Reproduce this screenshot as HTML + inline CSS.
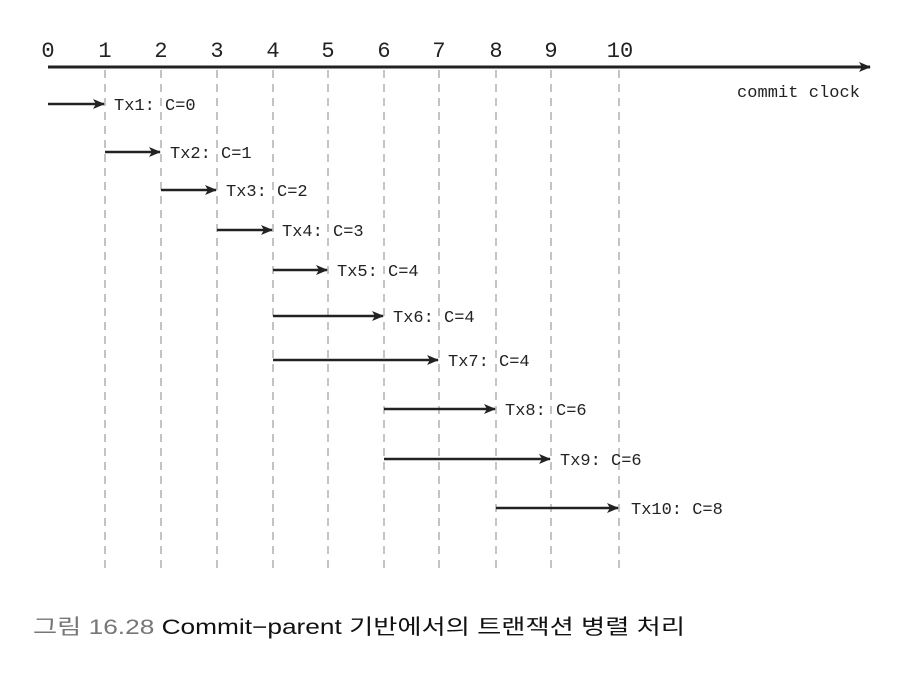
<!DOCTYPE html>
<html><head><meta charset="utf-8"><style>
html,body{margin:0;padding:0;background:#fff;}
svg{display:block;}
.m{font-family:"Liberation Mono",monospace;fill:#222;}
</style></head><body>
<svg width="906" height="684" viewBox="0 0 906 684" xmlns="http://www.w3.org/2000/svg">
<defs>
<marker id="a" markerWidth="12" markerHeight="10" refX="11" refY="5" orient="auto" markerUnits="userSpaceOnUse">
<path d="M0,0 L12,5 L0,10 L3,5 Z" fill="#222"/>
</marker>
</defs>
<g stroke="#c4c4c4" stroke-width="2" stroke-dasharray="8,6">
<line x1="105" y1="70" x2="105" y2="568"/>
<line x1="161" y1="70" x2="161" y2="568"/>
<line x1="217" y1="70" x2="217" y2="568"/>
<line x1="273" y1="70" x2="273" y2="568"/>
<line x1="328" y1="70" x2="328" y2="568"/>
<line x1="384" y1="70" x2="384" y2="568"/>
<line x1="439" y1="70" x2="439" y2="568"/>
<line x1="496" y1="70" x2="496" y2="568"/>
<line x1="551" y1="70" x2="551" y2="568"/>
<line x1="619" y1="70" x2="619" y2="568"/>
</g>
<line x1="48" y1="67" x2="870" y2="67" stroke="#222" stroke-width="3" marker-end="url(#a)"/>
<g class="m" font-size="22" text-anchor="middle">
<text x="48" y="57">0</text><text x="105" y="57">1</text><text x="161" y="57">2</text>
<text x="217" y="57">3</text><text x="273" y="57">4</text><text x="328" y="57">5</text>
<text x="384" y="57">6</text><text x="439" y="57">7</text><text x="496" y="57">8</text>
<text x="551" y="57">9</text><text x="620" y="57">10</text>
</g>
<text class="m" x="737" y="97" font-size="17" textLength="123">commit clock</text>
<g stroke="#222" stroke-width="2.5" marker-end="url(#a)">
<line x1="48" y1="104" x2="104" y2="104"/>
<line x1="105" y1="152" x2="160" y2="152"/>
<line x1="161" y1="190" x2="216" y2="190"/>
<line x1="217" y1="230" x2="272" y2="230"/>
<line x1="273" y1="270" x2="327" y2="270"/>
<line x1="273" y1="316" x2="383" y2="316"/>
<line x1="273" y1="360" x2="438" y2="360"/>
<line x1="384" y1="409" x2="495" y2="409"/>
<line x1="384" y1="459" x2="550" y2="459"/>
<line x1="496" y1="508" x2="618" y2="508"/>
</g>
<g class="m" font-size="17">
<text x="114" y="110">Tx1: C=0</text>
<text x="170" y="158">Tx2: C=1</text>
<text x="226" y="196">Tx3: C=2</text>
<text x="282" y="236">Tx4: C=3</text>
<text x="337" y="276">Tx5: C=4</text>
<text x="393" y="322">Tx6: C=4</text>
<text x="448" y="366">Tx7: C=4</text>
<text x="505" y="415">Tx8: C=6</text>
<text x="560" y="465">Tx9: C=6</text>
<text x="631" y="514">Tx10: C=8</text>
</g>
<text x="33" y="634" font-size="21" font-family="'Liberation Sans','Noto Sans CJK KR',sans-serif" textLength="652" lengthAdjust="spacingAndGlyphs"><tspan fill="#777">그림 16.28</tspan><tspan fill="#111"> Commit−parent 기반에서의 트랜잭션 병렬 처리</tspan></text>
</svg>
</body></html>
